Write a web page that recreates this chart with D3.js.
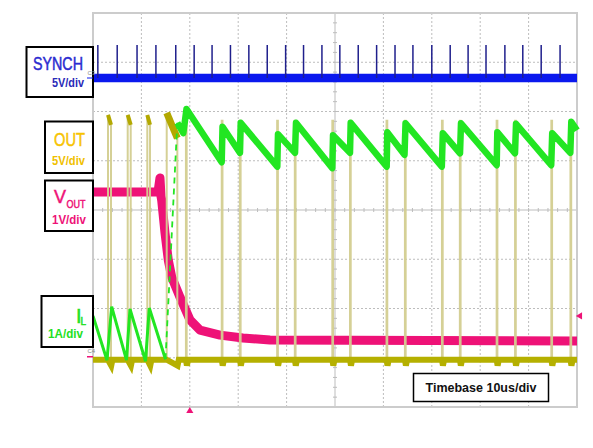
<!DOCTYPE html>
<html>
<head>
<meta charset="utf-8">
<script src="https://cdn.jsdelivr.net/npm/d3@7"></script>
<style>
body{margin:0;background:#fff}
svg{display:block;font-family:"Liberation Sans",Arial,sans-serif}
</style>
</head>
<body>
<script>
// time in us (10us/div), levels in screen divisions (+4 top .. -4 bottom)
var timeDivs = [0,10,20,30,40,50,60,70,80,90,100];
var levelDivs = [-4,-3,-2,-1,0,1,2,3,4];

var synchLevel = 2.68;
var synchPeak = 3.35;
var synchSpikes = [1.0,5.0,9.1,13.0,17.1,20.9,24.6,28.4,32.2,36.0,39.8,43.5,47.3,51.0,54.8,58.6,62.4,66.1,70.0,73.8,77.5,81.2,85.1,88.8,92.6,96.5];

var outLow = -3.04;
var outDip = -3.16;
// [rise, fall, top at rise, top at fall]
var outPulses = [
	[3.10,3.72,1.93,1.73],[7.17,7.79,1.93,1.73],[11.22,11.78,1.93,1.73],[15.23,17.42,1.97,1.46],
	[19.2,19.35,1.85,1.85],[26.6,26.75,1.81,1.81],[30.35,30.5,1.81,1.81],[38.05,38.2,1.81,1.81],
	[41.7,41.85,1.81,1.81],[49.45,49.6,1.81,1.81],[53.1,53.25,1.81,1.81],[60.65,60.8,1.81,1.81],
	[64.45,64.6,1.81,1.81],[72.1,72.25,1.81,1.81],[75.8,75.95,1.81,1.81],[83.4,83.55,1.81,1.81],
	[87.2,87.35,1.81,1.81],[94.7,94.85,1.81,1.81],[98.65,98.8,1.81,1.81]
];

var ilBefore = [[0,-2.15],[2.89,-3.05],[3.86,-1.96],[6.92,-3.05],[7.64,-2.01],[10.85,-3.07],[11.63,-1.99],[14.98,-3.03]];
var ilRise = [[14.98,-3.03],[17.42,1.77]];
var ilAfter = [[17.42,1.77],[18.66,1.56],[19.32,2.05],[26.59,0.97],[26.76,1.69],[30.37,1.16],[30.52,1.77],
	[38.08,0.88],[38.22,1.54],[41.74,1.16],[41.94,1.77],[49.44,0.85],[49.59,1.52],[53.1,1.16],[53.24,1.77],
	[60.68,0.88],[60.8,1.58],[64.36,1.12],[64.57,1.76],[72.07,0.88],[72.27,1.56],[75.83,1.15],[76.03,1.76],
	[83.41,0.91],[83.53,1.58],[87.19,1.15],[87.4,1.75],[94.67,0.91],[94.88,1.56],[98.62,1.16],[98.82,1.79],[100,1.62]];

var vout = [[0,0.365],[13.43,0.365],[13.84,0.65],[14.05,0.28],[14.19,0.2],[14.88,-0.47],[15.56,-1.02],[16.26,-1.36],
	[17.98,-1.77],[20.04,-2.23],[22.11,-2.44],[26.24,-2.54],[30.99,-2.6],[36.57,-2.64],[100,-2.66]];

var triggerTime = 20;
var triggerLevel = -2.15;
var markerLevel = -2.98;

var W = 593, H = 448;
var svg = d3.select('body').append('svg').attr('width',W).attr('height',H);

var x = d3.scaleLinear().domain([0,100]).range([93,577]);
var y = d3.scaleLinear().domain([-4,4]).range([407,13]);
var line = d3.line().x(d=>x(d[0])).y(d=>y(d[1]));

// grid
var grid = svg.append('g');
grid.selectAll('line.v').data(timeDivs.slice(1,-1)).enter().append('line')
	.attr('x1',d=>x(d)).attr('x2',d=>x(d)).attr('y1',y(4)).attr('y2',y(-4))
	.attr('stroke','#bdbdbd').attr('stroke-width',1)
	.attr('stroke-dasharray',d=>d==50?null:'2,2');
grid.selectAll('line.h').data(levelDivs.slice(1,-1)).enter().append('line')
	.attr('y1',d=>y(d)).attr('y2',d=>y(d)).attr('x1',x(0)).attr('x2',x(100))
	.attr('stroke','#bdbdbd').attr('stroke-width',1)
	.attr('stroke-dasharray',d=>d==0?null:'2,2');
// minor ticks on centre lines
grid.selectAll('line.tx').data(d3.range(0,100.01,2)).enter().append('line')
	.attr('x1',d=>x(d)).attr('x2',d=>x(d)).attr('y1',y(0)-2).attr('y2',y(0)+2)
	.attr('stroke','#bdbdbd');
grid.selectAll('line.ty').data(d3.range(-4,4.01,0.2)).enter().append('line')
	.attr('y1',d=>y(d)).attr('y2',d=>y(d)).attr('x1',x(50)-2).attr('x2',x(50)+2)
	.attr('stroke','#bdbdbd');
svg.append('rect').attr('x',x(0)).attr('y',y(4)).attr('width',x(100)-x(0)).attr('height',y(-4)-y(4))
	.attr('fill','none').attr('stroke','#cccccc').attr('stroke-width',2);

// VOUT
svg.append('path').attr('d',line(vout)).attr('fill','none')
	.attr('stroke','#ee1277').attr('stroke-width',9).attr('stroke-linejoin','round');

// OUT
var outG = svg.append('g');
var lowPts = [[0,outLow]];
outPulses.forEach(p=>{
	lowPts.push([p[0],outLow]);
	lowPts.push([p[1]+0.05,outDip]);
	lowPts.push([p[1]+0.3,outLow]);
});
lowPts.push([100,outLow]);
outG.selectAll('path.edge').data(outPulses).enter().append('path')
	.attr('d',p=>line([[p[0],outLow],[p[0],p[2]],[p[1],p[3]],[p[1],outLow]]))
	.attr('fill','none').attr('stroke','#d3ce90').attr('stroke-width',2).attr('opacity',0.95);
outG.selectAll('path.top').data(outPulses.filter(p=>p[1]-p[0]>0.3)).enter().append('path')
	.attr('d',p=>line([[p[0],p[2]],[p[1],p[3]]]))
	.attr('fill','none').attr('stroke','#b3a800').attr('stroke-width',d=>d[1]-d[0]>1?7:4);
outG.append('path').attr('d',line(lowPts)).attr('fill','none')
	.attr('stroke','#b5b000').attr('stroke-width',6);

// IL
svg.append('path').attr('d',line(ilBefore)).attr('fill','none')
	.attr('stroke','#22e622').attr('stroke-width',3);
svg.append('path').attr('d',line(ilRise)).attr('fill','none')
	.attr('stroke','#22e622').attr('stroke-width',1.8).attr('stroke-dasharray','6,5');
svg.append('path').attr('d',line(ilAfter)).attr('fill','none')
	.attr('stroke','#22e622').attr('stroke-width',6.5).attr('stroke-linejoin','round');

// SYNCH
svg.append('path').attr('d',line([[0,synchLevel],[100,synchLevel]])).attr('fill','none')
	.attr('stroke','#0a18ee').attr('stroke-width',8.5);
svg.selectAll('line.sp').data(synchSpikes).enter().append('line')
	.attr('x1',d=>x(d)).attr('x2',d=>x(d)).attr('y1',y(synchPeak)).attr('y2',y(synchLevel))
	.attr('stroke','#1f1f8c').attr('stroke-width',1.5);

// channel label boxes
function box(x0,y0,w,h){
	svg.append('rect').attr('x',x0).attr('y',y0).attr('width',w).attr('height',h)
		.attr('fill','#fff').attr('stroke','#000').attr('stroke-width',2);
}
// text squeezed horizontally to the width seen in the scope picture
function txt(tx,ty,s,size,col,bold,len){
	var t = svg.append('text').attr('font-size',size).attr('fill',col)
		.attr('font-weight',bold?'bold':'normal').text(s);
	if(!bold) t.attr('stroke',col).attr('stroke-width',0.5);
	var sx = len ? len/t.node().getComputedTextLength() : 1;
	t.attr('transform',`translate(${tx},${ty}) scale(${sx},1)`);
	return t;
}
box(26.5,47,66.5,50);
txt(33,70,'SYNCH',18,'#2b2bd0',false,50);
txt(52,87,'5V/div',12.5,'#2a2ab8',true,32);

box(45,121.5,48,51.5);
txt(54,146,'OUT',18,'#f7c300',false,31);
txt(52,165,'5V/div',12.5,'#f0bf00',true,33);

box(45,180.5,48,50.5);
txt(54,203,'V',19,'#ee1277',false,12);
txt(66.5,208,'OUT',11,'#ee1277',false,19);
txt(52,224,'1V/div',12.5,'#ee1277',true,34);

box(41.5,296,51.5,51);
txt(76,323,'I',20,'#22e022',false);
txt(80.5,325,'L',10,'#22e022',false);
txt(48,338,'1A/div',12.5,'#22e022',true,35);

// channel / trigger markers
svg.append('text').attr('x',87.5).attr('y',y(synchLevel)-3).attr('font-size',6).attr('fill','#888').text('C3');
svg.append('line').attr('x1',87).attr('x2',93).attr('y1',y(synchLevel)).attr('y2',y(synchLevel)).attr('stroke','#0a18ee');
svg.append('text').attr('x',87.5).attr('y',y(markerLevel)-4).attr('font-size',6).attr('fill','#888').text('C4');
svg.append('line').attr('x1',87).attr('x2',93).attr('y1',y(markerLevel)).attr('y2',y(markerLevel)).attr('stroke','#ee1277').attr('stroke-width',1.5);
svg.append('path').attr('d',d3.symbol(d3.symbolTriangle,22)()).attr('fill','#ee1277')
	.attr('transform',`translate(${x(triggerTime)},${y(-4)+4})`);
svg.append('path').attr('d',d3.symbol(d3.symbolTriangle,22)()).attr('fill','#ee1277')
	.attr('transform',`translate(${x(100)+3},${y(triggerLevel)}) rotate(-90)`);

// timebase
svg.append('rect').attr('x',413.5).attr('y',373.5).attr('width',135).attr('height',28)
	.attr('fill','#fff').attr('stroke','#000').attr('stroke-width',1.5);
svg.append('text').attr('x',481).attr('y',392).attr('text-anchor','middle')
	.attr('font-size',12.5).attr('font-weight','bold').attr('fill','#111').text('Timebase 10us/div');
</script>
</body>
</html>
